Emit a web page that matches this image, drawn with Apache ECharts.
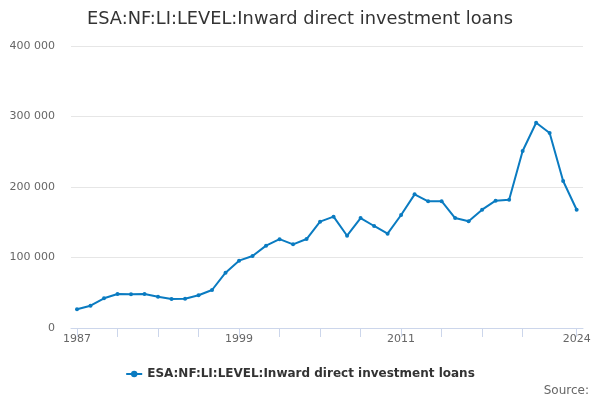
<!DOCTYPE html>
<html><head><meta charset="utf-8">
<script src="https://cdn.jsdelivr.net/npm/echarts@6/dist/echarts.min.js"></script>
<style>html,body{margin:0;padding:0;background:#fff}#c{width:600px;height:400px}</style>
</head><body><div id="c"></div>
<script>
var years = [];
for (var y = 1987; y <= 2024; y++) years.push(y);
var values = [26500,31600,42100,48200,47800,48200,44400,41100,41600,46400,53900,78500,95500,102100,116800,126000,118700,126200,150800,157900,130900,156000,144700,133800,160300,189600,179700,179900,156000,151300,167800,180600,182000,251000,291200,276600,208500,167800];
var seriesName = 'ESA:NF:LI:LEVEL:Inward direct investment loans';
var tickYears = [1987,1990,1993,1996,1999,2002,2005,2008,2011,2014,2017,2020,2024];
var labelYears = [1987,1999,2011,2024];
var chart = echarts.init(document.getElementById('c'));
chart.setOption({
  animation:false,
  textStyle:{fontFamily:'DejaVu Sans'},
  title:{text:seriesName,left:'center',top:5,textStyle:{fontSize:17.8,fontWeight:'normal',color:'#333',fontFamily:'DejaVu Sans'}},
  grid:{left:71,right:17,top:46,bottom:72},
  xAxis:{type:'value',min:1986.555,max:2024.47,
    splitLine:{show:false},
    axisLine:{lineStyle:{color:'#ccd6eb'}},
    axisTick:{length:9,lineStyle:{color:'#ccd6eb'},customValues:tickYears},
    axisLabel:{color:'#666',fontSize:11,margin:6,customValues:labelYears,formatter:function(v){return String(v);}}
  },
  yAxis:{type:'value',min:0,max:400000,interval:100000,
    axisLabel:{color:'#666',fontSize:11,margin:16,formatter:function(v){return String(v).replace(/\B(?=(\d{3})+(?!\d))/g,' ');}},
    splitLine:{lineStyle:{color:'#e6e6e6'}},axisLine:{show:false},axisTick:{show:false}
  },
  legend:{bottom:15,left:'center',itemWidth:16,itemHeight:8,itemGap:6,textStyle:{fontSize:12,fontWeight:'bold',color:'#333'},data:[seriesName]},
  graphic:[{type:'text',right:11,bottom:3,style:{text:'Source:',fontSize:12,fill:'#666',fontFamily:'DejaVu Sans'}}],
  series:[{name:seriesName,type:'line',data:years.map(function(yr,i){return [yr,values[i]];}),symbol:'circle',symbolSize:4,showSymbol:true,
    lineStyle:{width:2,color:'#0a7bc1'},itemStyle:{color:'#0a7bc1'}}]
});
</script></body></html>
